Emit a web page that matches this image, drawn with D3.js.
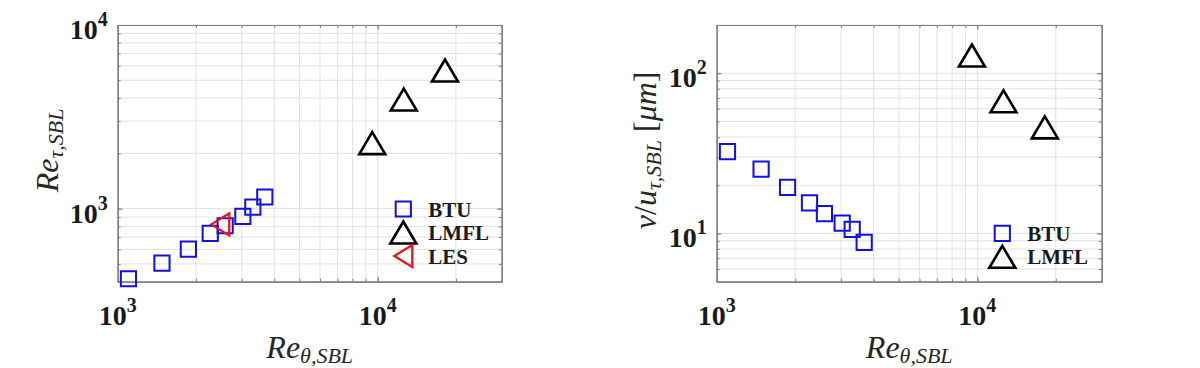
<!DOCTYPE html>
<html>
<head>
<meta charset="utf-8">
<script src="https://cdn.jsdelivr.net/npm/d3@7"></script>
<style>
body { margin: 0; background: #fff; }
svg text { font-family: "Liberation Serif", "Times New Roman", serif; }
</style>
</head>
<body>
<svg id="chart" width="1200" height="368"></svg>
<script>
// data
const btuReTheta = [1100, 1480, 1870, 2270, 2590, 3030, 3310, 3680];
const btuReTau = [415, 505, 602, 733, 807, 908, 1020, 1157];
const btuViscLen = [32.4, 25.2, 19.4, 15.5, 13.3, 11.6, 10.6, 8.8];

const lmflReTheta = [9530, 12600, 18150];
const lmflReTau = [2274, 3927, 5651];
const lmflViscLen = [129, 66.8, 45.9];

const lesReTheta = [2480];
const lesReTau = [821];

const xDomain = [1000, 30000];
const xMajor = [1e3, 1e4];
const yDomainLeft = [400, 10000];
const yMajorLeft = [1e3, 1e4];
const yDomainRight = [5, 200];
const yMajorRight = [10, 100];

const blue = "#1010e0";
const red = "#e8141c";
const black = "#000";
const axisGray = "#7f7f7f";
const gridGray = "#e2e2e2";

const svg = d3.select("#chart");

const square = "M-7.6,-7.6h15.2v15.2h-15.2Z";
const triUp = "M0,-11L13,11L-13,11Z";
const triLeft = "M-9,0L9,-11L9,11Z";

function powLabel(sel, d) {
    let e = Math.round(Math.log10(d));
    sel.append("tspan").text("10");
    sel.append("tspan").attr("font-size", 20).attr("dy", -13).text(e);
}

function drawPanel(p) {
    let x = d3.scaleLog().domain(xDomain).range([p.left, p.left + p.width]);
    let y = d3.scaleLog().domain(p.yDomain).range([p.top + p.height, p.top]);
    let g = svg.append("g");
    let bottom = p.top + p.height;
    let right = p.left + p.width;

    g.append("rect")
        .attr("x", p.left).attr("y", p.top)
        .attr("width", p.width).attr("height", p.height)
        .attr("fill", "#fff");

    // grid lines, major and minor
    g.append("g").selectAll("line")
        .data(x.ticks())
        .join("line")
        .attr("x1", d => x(d)).attr("x2", d => x(d))
        .attr("y1", p.top).attr("y2", bottom)
        .attr("stroke", gridGray);
    g.append("g").selectAll("line")
        .data(y.ticks())
        .join("line")
        .attr("y1", d => y(d)).attr("y2", d => y(d))
        .attr("x1", p.left).attr("x2", right)
        .attr("stroke", gridGray);

    let style = sel => {
        sel.select(".domain").attr("stroke", axisGray).attr("stroke-width", 1.2);
        sel.selectAll(".tick line").attr("stroke", axisGray);
        sel.selectAll("text").remove();
    }

    // ticks inside on all four sides
    let sides = [
        [d3.axisBottom, x, `translate(0,${bottom})`],
        [d3.axisTop, x, `translate(0,${p.top})`],
        [d3.axisLeft, y, `translate(${p.left},0)`],
        [d3.axisRight, y, `translate(${right},0)`]
    ];
    sides.forEach(([ax, sc, tr]) => {
        g.append("g").attr("transform", tr)
            .call(ax(sc).tickValues(sc.ticks()).tickSize(-3).tickSizeOuter(0).tickFormat(""))
            .call(style);
        g.append("g").attr("transform", tr)
            .call(ax(sc).tickValues(sc === x ? xMajor : p.yMajor).tickSize(-5).tickSizeOuter(0).tickFormat(""))
            .call(style);
    });

    // tick labels 10^n
    g.append("g").selectAll("text")
        .data(xMajor)
        .join("text")
        .attr("x", d => x(d)).attr("y", 325)
        .attr("text-anchor", "middle")
        .attr("font-size", 28).attr("font-weight", "bold").attr("fill", "#1a1a1a")
        .each(function(d) { powLabel(d3.select(this), d) });
    g.append("g").selectAll("text")
        .data(p.yMajor)
        .join("text")
        .attr("x", p.left - 10).attr("y", d => y(d) + 14)
        .attr("text-anchor", "end")
        .attr("font-size", 28).attr("font-weight", "bold").attr("fill", "#1a1a1a")
        .each(function(d) { powLabel(d3.select(this), d) });

    // x label
    let xl = g.append("text")
        .attr("x", (p.left + right) / 2).attr("y", 358)
        .attr("text-anchor", "middle")
        .attr("font-size", 32).attr("font-style", "italic").attr("fill", "#262626");
    xl.append("tspan").text("Re");
    xl.append("tspan").attr("font-size", 22).attr("dy", 5).text("θ,SBL");

    // y label
    let yl = g.append("text")
        .attr("transform", `translate(${p.yLabelX},${(p.top + bottom) / 2 - 3}) rotate(-90)`)
        .attr("text-anchor", "middle")
        .attr("font-size", 32).attr("fill", "#262626");
    p.yLabel(yl);

    // markers
    g.append("g").selectAll("path")
        .data(d3.zip(btuReTheta, p.btu))
        .join("path")
        .attr("d", square)
        .attr("transform", d => `translate(${x(d[0])},${y(d[1])})`)
        .attr("fill", "none").attr("stroke", blue).attr("stroke-width", 2);
    g.append("g").selectAll("path")
        .data(d3.zip(lmflReTheta, p.lmfl))
        .join("path")
        .attr("d", triUp)
        .attr("transform", d => `translate(${x(d[0])},${y(d[1])})`)
        .attr("fill", "none").attr("stroke", black).attr("stroke-width", 2.6)
        .attr("stroke-linejoin", "miter");
    if (p.les) {
        g.append("g").selectAll("path")
            .data(d3.zip(lesReTheta, p.les))
            .join("path")
            .attr("d", triLeft)
            .attr("transform", d => `translate(${x(d[0])},${y(d[1])})`)
            .attr("fill", "none").attr("stroke", red).attr("stroke-width", 2.3);
    }

    // legend
    let leg = g.append("g").attr("transform", `translate(${p.legend[0]},${p.legend[1]})`);
    p.legendItems.forEach((it, i) => {
        leg.append("path")
            .attr("d", it.shape)
            .attr("transform", `translate(0,${i * 23.5})`)
            .attr("fill", "none").attr("stroke", it.color).attr("stroke-width", it.w);
        leg.append("text")
            .attr("x", 25).attr("y", i * 23.5 + 7.5)
            .attr("font-size", 21).attr("font-weight", "bold").attr("fill", "#1a1a1a")
            .text(it.name);
    });
}

drawPanel({
    left: 117.7, top: 25, width: 384, height: 256.7,
    yDomain: yDomainLeft, yMajor: yMajorLeft,
    btu: btuReTau, lmfl: lmflReTau, les: lesReTau,
    yLabelX: 58,
    yLabel: t => {
        t.append("tspan").attr("font-style", "italic").text("Re");
        t.append("tspan").attr("font-style", "italic").attr("font-size", 22).attr("dy", 5).text("τ,SBL");
    },
    legend: [403.3, 209],
    legendItems: [
        { name: "BTU", shape: square, color: blue, w: 2 },
        { name: "LMFL", shape: triUp, color: black, w: 2.6 },
        { name: "LES", shape: triLeft, color: red, w: 2.3 }
    ]
});

drawPanel({
    left: 716.7, top: 25, width: 385, height: 256.7,
    yDomain: yDomainRight, yMajor: yMajorRight,
    btu: btuViscLen, lmfl: lmflViscLen, les: null,
    yLabelX: 656,
    yLabel: t => {
        t.append("tspan").attr("font-style", "italic").text("ν");
        t.append("tspan").text("/");
        t.append("tspan").attr("font-style", "italic").text("u");
        t.append("tspan").attr("font-style", "italic").attr("font-size", 22).attr("dy", 5).text("τ,SBL");
        t.append("tspan").attr("dy", -5).text(" [");
        t.append("tspan").attr("font-style", "italic").text("μm");
        t.append("tspan").text("]");
    },
    legend: [1002.3, 233.3],
    legendItems: [
        { name: "BTU", shape: square, color: blue, w: 2 },
        { name: "LMFL", shape: triUp, color: black, w: 2.6 }
    ]
});
</script>
</body>
</html>
